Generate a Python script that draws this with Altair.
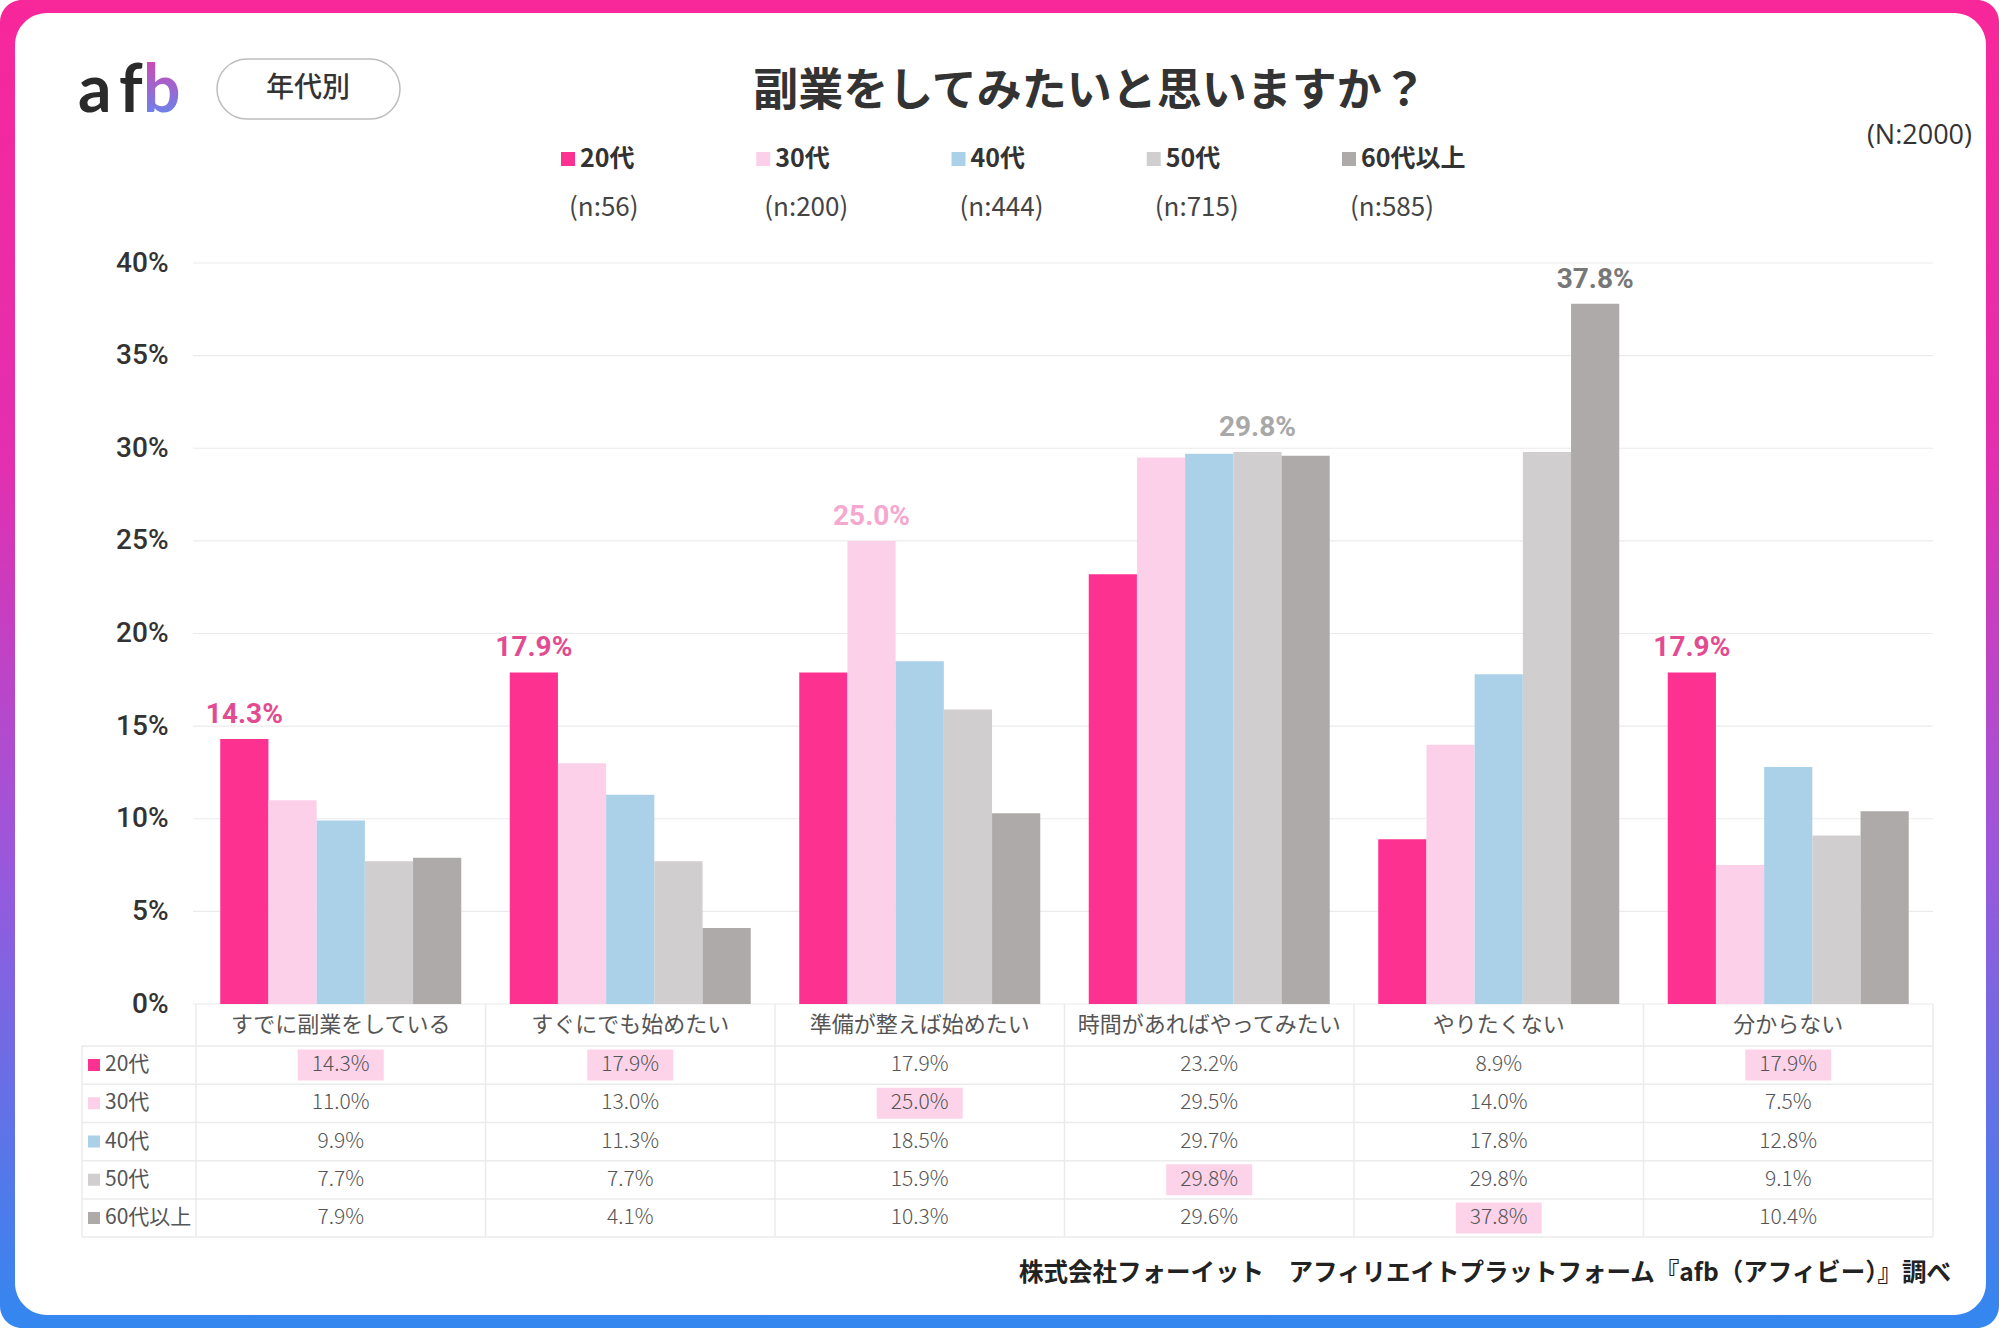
import altair as alt
import pandas as pd

# ---------------- data ----------------
cats = ["すでに副業をしている", "すぐにでも始めたい", "準備が整えば始めたい",
        "時間があればやってみたい", "やりたくない", "分からない"]
ages = ["20代", "30代", "40代", "50代", "60代以上"]
v20 = [14.3, 17.9, 17.9, 23.2, 8.9, 17.9]
v30 = [11.0, 13.0, 25.0, 29.5, 14.0, 7.5]
v40 = [9.9, 11.3, 18.5, 29.7, 17.8, 12.8]
v50 = [7.7, 7.7, 15.9, 29.8, 29.8, 9.1]
v60 = [7.9, 4.1, 10.3, 29.6, 37.8, 10.4]
ns = [56, 200, 444, 715, 585]
y_ticks = [0, 5, 10, 15, 20, 25, 30, 35, 40]

title_text = "副業をしてみたいと思いますか？"
tag_text = "年代別"
total_text = "(N:2000)"
footer_text = "株式会社フォーイット　アフィリエイトプラットフォーム『afb（アフィビー）』調べ"

# ---------------- styles ----------------
bar_colors = ["#fd3290", "#fdd0ea", "#abd1e9", "#d1cecf", "#aeaaa9"]
label_colors = ["#e34b91", "#f5a8cf", "#8fbddb", "#a8a8a8", "#777777"]
JP = "Noto Sans CJK JP"

W, H = 1737, 741
L, T = 196, 263
TOTAL_W, TOTAL_H = 1999, 1328

rows = []
for age, vals, lc in zip(ages, [v20, v30, v40, v50, v60], label_colors):
    for cat, v in zip(cats, vals):
        rows.append({"cat": cat, "age": age, "value": v, "lblcol": lc})
df = pd.DataFrame(rows)
grid_df = pd.DataFrame({"tick": y_ticks})
legend_df = pd.DataFrame({"age": ages, "n": [f"(n:{n})" for n in ns]})
cat_df = pd.DataFrame({"cat": cats})
age_df = pd.DataFrame({"age": ages})
one = pd.DataFrame({"k": [0]})

color_scale = alt.Scale(domain=ages, range=bar_colors)

# ---------------- background frame ----------------
frame_grad = {
    "gradient": "linear", "x1": 0, "y1": 0, "x2": 0, "y2": 1,
    "stops": [
        {"offset": 0, "color": "#f8279a"},
        {"offset": 0.35, "color": "#e22fb0"},
        {"offset": 0.65, "color": "#9a58dc"},
        {"offset": 1, "color": "#3388f0"},
    ],
}
frame = alt.Chart(one).mark_rect(fill=frame_grad, cornerRadius=22).encode(
    x=alt.value(-L), x2=alt.value(TOTAL_W - L),
    y=alt.value(-T), y2=alt.value(TOTAL_H - T))
inner = alt.Chart(one).mark_rect(fill="white", cornerRadius=32).encode(
    x=alt.value(15 - L), x2=alt.value(1986 - L),
    y=alt.value(13 - T), y2=alt.value(1315 - T))
bg = alt.layer(frame, inner)

# ---------------- main bar chart ----------------
xs = alt.Scale(domain=cats, paddingInner=0, paddingOuter=0)
xoff = alt.XOffset("age:N", scale=alt.Scale(domain=ages, paddingInner=0, paddingOuter=0.503))
ys = alt.Scale(domain=[0, 40], nice=False)

x_axis = alt.Axis(title=None, labelAngle=0, labelFontSize=22, labelColor="#555555",
                  labelFont=JP, labelPadding=20, labelBaseline="middle", domain=False,
                  ticks=False, tickSize=0, grid=False, zindex=1, labelLimit=400)
y_axis = alt.Axis(title=None, values=y_ticks, labelExpr="datum.value + '%'",
                  labelFontSize=28, labelFont="Roboto", labelFontWeight=500,
                  labelColor="#333333", labelPadding=28, domain=False, ticks=False,
                  tickSize=0, grid=False, zindex=1)

grid = alt.Chart(grid_df).mark_rule(color="#ebebeb", strokeWidth=1.2).encode(
    y=alt.Y("tick:Q", scale=ys, axis=y_axis),
    x=alt.value(-3), x2=alt.value(W))

bars = alt.Chart(df).mark_bar().encode(
    x=alt.X("cat:N", scale=xs, axis=x_axis),
    xOffset=xoff,
    y=alt.Y("value:Q", scale=ys, axis=y_axis),
    color=alt.Color("age:N", scale=color_scale, legend=None))

peak = alt.Chart(df).transform_joinaggregate(
    maxv="max(value)", groupby=["cat"]
).transform_filter("datum.value == datum.maxv").transform_calculate(
    lbl="format(datum.value, '.1f') + '%'"
).mark_text(dy=-16, baseline="alphabetic", fontSize=28, font="Roboto",
            fontWeight="bold").encode(
    x=alt.X("cat:N", scale=xs, axis=x_axis),
    xOffset=xoff,
    y=alt.Y("value:Q", scale=ys, axis=y_axis),
    text="lbl:N",
    fill=alt.Fill("lblcol:N", scale=None))

main = alt.layer(grid, bars, peak)

# ---------------- data table ----------------
xs2 = alt.Scale(domain=cats, paddingInner=0, paddingOuter=0)
yt = alt.Scale(type="point", domain=ages, range=[802, 955], padding=0)
LINE = "#ebebeb"

hl = alt.Chart(df).transform_joinaggregate(
    maxv="max(value)", groupby=["cat"]
).transform_filter("datum.value == datum.maxv").mark_point(
    shape="M-1,-0.36H1V0.36H-1Z", size=7396, filled=True, color="#fdd3ea",
    opacity=1, strokeWidth=0).encode(
    x=alt.X("cat:N", scale=xs2, axis=None),
    y=alt.Y("age:N", scale=yt, axis=None))

nums = alt.Chart(df).transform_calculate(
    lbl="format(datum.value, '.1f') + '%'"
).mark_text(fontSize=21, font=JP, fontWeight=300, color="#555555",
            baseline="middle").encode(
    x=alt.X("cat:N", scale=xs2, axis=None),
    y=alt.Y("age:N", scale=yt, axis=None),
    text="lbl:N")

row_lbl = alt.Chart(age_df).mark_text(align="left", baseline="middle", fontSize=21,
                                      font=JP, color="#555555").encode(
    x=alt.value(105 - L), y=alt.Y("age:N", scale=yt, axis=None), text="age:N")

row_sq = alt.Chart(age_df).mark_square(size=144, opacity=1).encode(
    x=alt.value(94 - L), y=alt.Y("age:N", scale=yt, axis=None),
    color=alt.Color("age:N", scale=color_scale, legend=None))

hlines = alt.Chart(age_df).mark_rule(color=LINE, strokeWidth=1.5, yOffset=-19).encode(
    x=alt.value(82 - L), x2=alt.value(W), y=alt.Y("age:N", scale=yt, axis=None))
hline_bottom = alt.Chart(age_df).transform_filter(
    alt.FieldEqualPredicate(field="age", equal=ages[-1])
).mark_rule(color=LINE, strokeWidth=1.5, yOffset=19).encode(
    x=alt.value(82 - L), x2=alt.value(W), y=alt.Y("age:N", scale=yt, axis=None))

vlines = alt.Chart(cat_df).mark_rule(color=LINE, strokeWidth=1.5).encode(
    x=alt.X("cat:N", scale=xs2, axis=None, bandPosition=0),
    y=alt.value(H), y2=alt.value(974))
vline_right = alt.Chart(cat_df).transform_filter(
    alt.FieldEqualPredicate(field="cat", equal=cats[-1])
).mark_rule(color=LINE, strokeWidth=1.5).encode(
    x=alt.X("cat:N", scale=xs2, axis=None, bandPosition=1),
    y=alt.value(H), y2=alt.value(974))
vline_left = alt.Chart(one).mark_rule(color=LINE, strokeWidth=1.5).encode(
    x=alt.value(82 - L), y=alt.value(783), y2=alt.value(974))

table = alt.layer(hlines, hline_bottom, vlines, vline_right, vline_left,
                  hl, nums, row_sq, row_lbl)

# ---------------- legend ----------------
lx = alt.Scale(type="point", domain=ages, range=[568 - L, 1349 - L], padding=0)
leg_sq = alt.Chart(legend_df).mark_square(size=196, opacity=1).encode(
    x=alt.X("age:N", scale=lx, axis=None), y=alt.value(159 - T),
    color=alt.Color("age:N", scale=color_scale, legend=None))
leg_txt = alt.Chart(legend_df).mark_text(align="left", baseline="middle", dx=12,
                                         fontSize=25, font=JP, fontWeight="bold",
                                         color="#333333").encode(
    x=alt.X("age:N", scale=lx, axis=None), y=alt.value(159 - T), text="age:N")
leg_n = alt.Chart(legend_df).mark_text(align="left", baseline="middle", dx=1,
                                       fontSize=26, font=JP, color="#444444").encode(
    x=alt.X("age:N", scale=lx, axis=None), y=alt.value(208 - T), text="n:N")
legend = alt.layer(leg_sq, leg_txt, leg_n)

# ---------------- decorations ----------------
pill = alt.Chart(one).mark_rect(fill="white", stroke="#bdbdbd", strokeWidth=1.5,
                                cornerRadius=30).encode(
    x=alt.value(217 - L), x2=alt.value(400 - L),
    y=alt.value(59 - T), y2=alt.value(119 - T))
pill_txt = alt.Chart(one).mark_text(fontSize=28, font=JP, fontWeight=500,
                                    color="#333333", baseline="middle").encode(
    x=alt.value(308 - L), y=alt.value(89 - T), text=alt.value(tag_text))
logo_grad = {
    "gradient": "linear", "x1": 0, "y1": 0, "x2": 0, "y2": 1,
    "stops": [{"offset": 0, "color": "#e63ba6"}, {"offset": 1, "color": "#568ff6"}],
}
logo_a = alt.Chart(one).mark_text(fontSize=66, font="Lato", fontWeight="bold",
                                  color="#2a2a2a", align="left",
                                  baseline="alphabetic").encode(
    x=alt.value(78 - L), y=alt.value(112 - T), text=alt.value("a"))
logo_f = alt.Chart(one).mark_text(fontSize=66, font="Lato", fontWeight="bold",
                                  color="#2a2a2a", align="left",
                                  baseline="alphabetic").encode(
    x=alt.value(119 - L), y=alt.value(112 - T), text=alt.value("f"))
logo_b = alt.Chart(one).mark_text(fontSize=66, font="Lato", fontWeight="bold",
                                  fill=logo_grad, align="left",
                                  baseline="alphabetic").encode(
    x=alt.value(143 - L), y=alt.value(112 - T), text=alt.value("b"))
title = alt.Chart(one).mark_text(fontSize=45, font=JP, fontWeight="bold",
                                 color="#333333", baseline="middle").encode(
    x=alt.value(1090 - L), y=alt.value(92 - T), text=alt.value(title_text))
total = alt.Chart(one).mark_text(fontSize=27, font="Open Sans", color="#333333",
                                 align="right", baseline="middle").encode(
    x=alt.value(1972 - L), y=alt.value(136 - T), text=alt.value(total_text))
footer = alt.Chart(one).mark_text(fontSize=24.5, font=JP, fontWeight="bold",
                                  color="#222222", align="right",
                                  baseline="middle").encode(
    x=alt.value(1951 - L), y=alt.value(1274 - T), text=alt.value(footer_text))
deco = alt.layer(pill, pill_txt, logo_a, logo_f, logo_b, title, total, footer)

chart = alt.layer(bg, main, table, legend, deco).resolve_scale(
    x="independent", y="independent", color="independent"
).properties(
    width=W, height=H,
    autosize=alt.AutoSizeParams(type="none"),
    padding={"left": L, "top": T, "right": TOTAL_W - L - W, "bottom": TOTAL_H - T - H},
    background="white",
).configure_view(stroke=None)

chart.save("out.html", embed_options={"renderer": "svg", "actions": False})
